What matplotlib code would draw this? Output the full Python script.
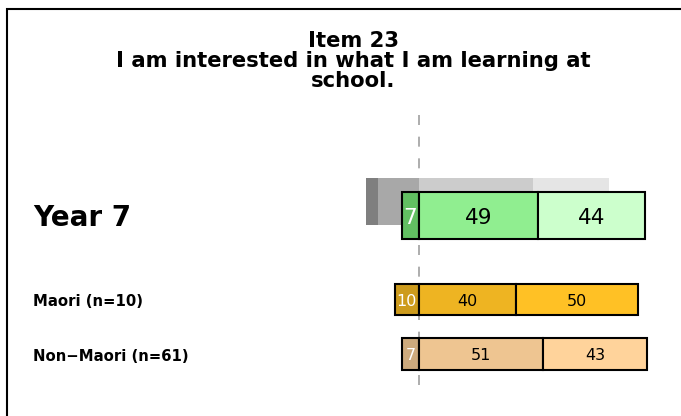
import matplotlib
matplotlib.use("Agg")
import matplotlib.pyplot as plt
from matplotlib.patches import Rectangle

plt.rcParams['font.family'] = ['DejaVu Sans']

# ---- data ----
title_lines = ["Item 23", "I am interested in what I am learning at", "school."]
categories = ["Year 7", "Maori (n=10)", "Non\u2212Maori (n=61)"]
strongly_disagree = [0, 0, 0]
disagree = [7, 10, 7]
agree = [49, 40, 51]
strongly_agree = [44, 50, 43]
# comparison (grey) bar behind Year 7
comp_sd = 5
comp_d = 17
comp_a = 47
comp_sa = 31

# ---- styles ----
colors = [
    ["#3E9E3E", "#62BF62", "#90EE90", "#CCFFCC"],   # Year 7
    ["#A07818", "#CD9B1D", "#EEB422", "#FFC125"],   # Maori
    ["#A88860", "#CDAA7D", "#EEC591", "#FFD39B"],   # Non-Maori
]
grey = ["#7F7F7F", "#A8A8A8", "#CCCCCC", "#E5E5E5"]
ycent = [215.5, 299.5, 354]
heights = [47, 31, 32]
label_base = [226, 306, 361]
label_sizes = [20, 10.7, 10.7]
num_sizes = [15.5, 11.5, 11.5]
W, H = 681, 416
zero_px = 419
px_per = 2.43

fig = plt.figure(figsize=(W / 100, H / 100), dpi=100)
ax = fig.add_axes([0, 0, 1, 1])
ax.set_xlim(-zero_px / px_per, (W - zero_px) / px_per)
ax.set_ylim(H, 0)
ax.axis('off')

# grey comparison bar
gy, gh = 201.5, 47
ax.barh(gy, comp_sd, left=-(comp_d + comp_sd), height=gh, color=grey[0], lw=0)
ax.barh(gy, comp_d, left=-comp_d, height=gh, color=grey[1], lw=0)
ax.barh(gy, comp_a, left=0, height=gh, color=grey[2], lw=0)
ax.barh(gy, comp_sa, left=comp_a, height=gh, color=grey[3], lw=0)

for i, cat in enumerate(categories):
    y, h = ycent[i], heights[i]
    sd, d, a, sa = strongly_disagree[i], disagree[i], agree[i], strongly_agree[i]
    segs = [(-(d + sd), sd, colors[i][0], 'white'),
            (-d, d, colors[i][1], 'white'),
            (0, a, colors[i][2], 'black'),
            (a, sa, colors[i][3], 'black')]
    for left, val, col, tc in segs:
        if val <= 0:
            continue
        ax.barh(y, val, left=left, height=h, color=col, edgecolor='black', lw=1.5)
        ax.text(left + val / 2, y, f"{val}", ha='center', va='center_baseline',
                color=tc, fontsize=num_sizes[i])
    ax.text(33 / px_per - zero_px / px_per, label_base[i], cat, ha='left', va='baseline',
            fontsize=label_sizes[i], fontweight='bold')

ax.vlines(0, 115, 389, colors='#A0A0A0', linestyles=(0, (6, 7)), lw=1.2, zorder=0.5)

# title
for k, line in enumerate(title_lines):
    fig.text(353 / W, 1 - (47 + 20 * k) / H, line, ha='center', va='baseline',
             fontsize=15.2, fontweight='bold')

# border
fig.add_artist(Rectangle((6.5 / W, -0.2), 2, 1.2 - 8.5 / H, transform=fig.transFigure,
                         fill=False, lw=1.5, edgecolor='black'))

fig.savefig("out.png", dpi=100)
